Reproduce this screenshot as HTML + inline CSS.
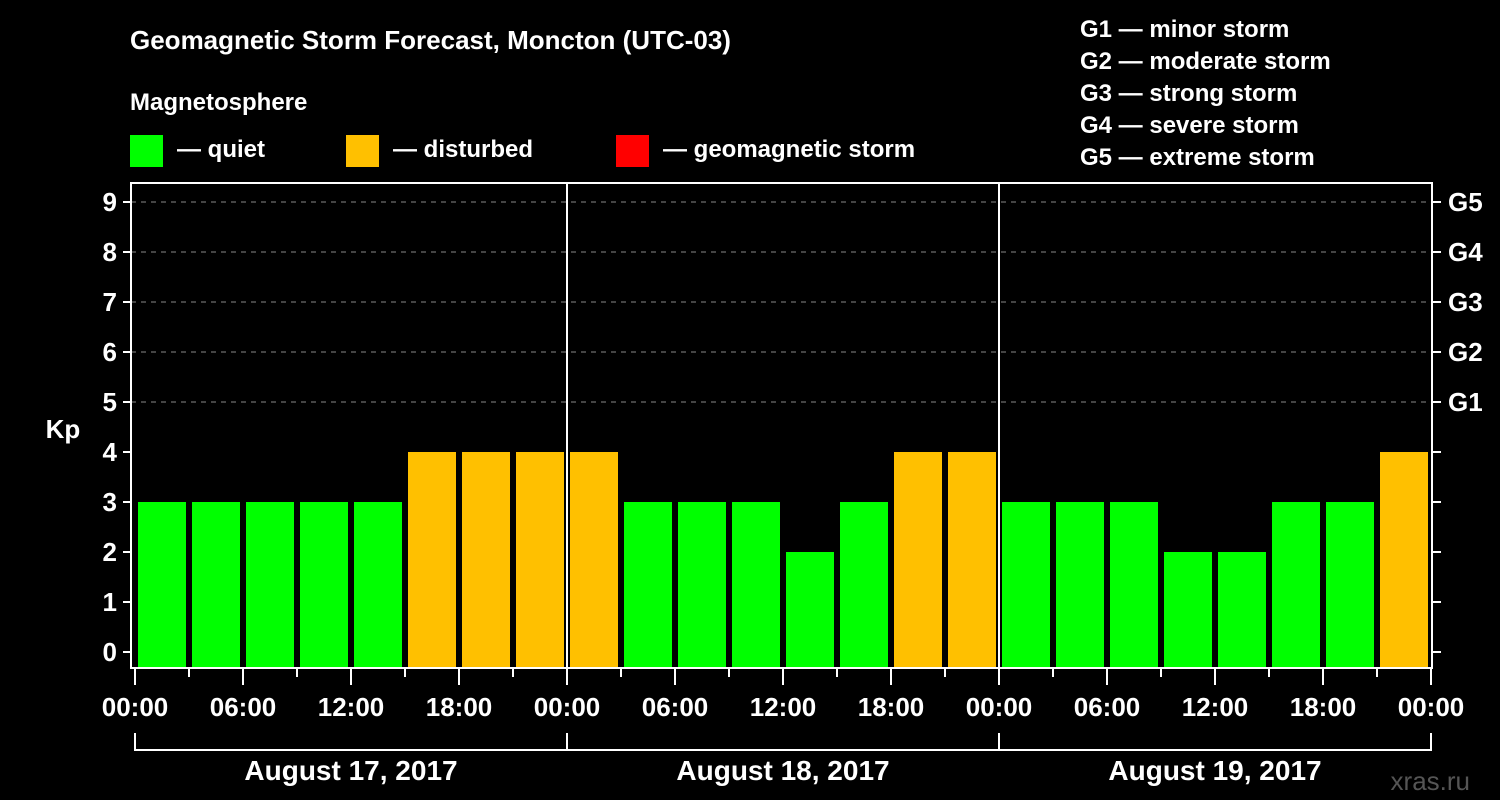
<!DOCTYPE html>
<html><head><meta charset="utf-8"><style>
html,body{margin:0;padding:0;background:#000;}
svg{display:block;font-family:"Liberation Sans",Arial,sans-serif;font-weight:bold;}
</style></head><body>
<svg id="chart" width="1500" height="800" viewBox="0 0 1500 800">
<text x="130" y="49" fill="#fff" font-size="26">Geomagnetic Storm Forecast, Moncton (UTC-03)</text>
<text x="130" y="110" fill="#fff" font-size="24">Magnetosphere</text>
<g><rect x="130" y="135" width="33" height="32" fill="#00ff00"/><text x="177" y="157" fill="#fff" font-size="24">— quiet</text></g>
<g><rect x="346" y="135" width="33" height="32" fill="#ffc000"/><text x="393" y="157" fill="#fff" font-size="24">— disturbed</text></g>
<g><rect x="616" y="135" width="33" height="32" fill="#ff0000"/><text x="663" y="157" fill="#fff" font-size="24">— geomagnetic storm</text></g>
<g fill="#fff" font-size="24">
<text x="1080" y="37">G1 — minor storm</text>
<text x="1080" y="69">G2 — moderate storm</text>
<text x="1080" y="101">G3 — strong storm</text>
<text x="1080" y="133">G4 — severe storm</text>
<text x="1080" y="165">G5 — extreme storm</text>
</g>
<text x="63" y="438" fill="#fff" font-size="26" text-anchor="middle">Kp</text>
<text x="1470" y="790" fill="#555" font-size="26" text-anchor="end" font-weight="normal">xras.ru</text>
<g id="plot"></g>
</svg>
<script>
const values = [3,3,3,3,3,4,4,4, 4,3,3,3,2,3,4,4, 3,3,3,2,2,3,3,4];
const days = ["August 17, 2017","August 18, 2017","August 19, 2017"];
const hourLabels = ["00:00","06:00","12:00","18:00"];
const gLabels = ["G1","G2","G3","G4","G5"];
const kpTicks = [0,1,2,3,4,5,6,7,8,9];

const NS="http://www.w3.org/2000/svg";
const plot=document.getElementById('plot');
const X0=135, PXH=18, Y0=652, PXK=50, BASE=668, L=131, R=1432, T=183;
const xH=h=>X0+h*PXH;
const yK=k=>Y0-k*PXK;
function mk(tag,attrs,parent){const e=document.createElementNS(NS,tag);for(const k in attrs)e.setAttribute(k,attrs[k]);(parent||plot).appendChild(e);return e;}

// gridlines
for(const k of kpTicks){ if(k>=5){
  const g=mk('line',{x1:L,x2:R,y1:yK(k),y2:yK(k),stroke:'#888','stroke-dasharray':'5,5','stroke-width':1});
  
  
}}
// bars
values.forEach((v,i)=>{
  const c=v>=5?'#ff0000':(v>=4?'#ffc000':'#00ff00');
  const b=mk('rect',{x:xH(i*3)+3,y:yK(v),width:48,height:BASE-yK(v),fill:c});
  
  
});
// day separators
for(let d=1;d<days.length;d++){
  const s=mk('line',{x1:xH(d*24),x2:xH(d*24),y1:T,y2:BASE,stroke:'#fff','stroke-width':2});
  
  
}
// frame
const f=mk('path',{d:`M${L} ${T}H${R}V${BASE}H${L}Z`,fill:'none',stroke:'#fff','stroke-width':2});


// y ticks
for(const k of kpTicks){
  mk('line',{x1:L-8,x2:L,y1:yK(k),y2:yK(k),stroke:'#fff','stroke-width':2});
  mk('line',{x1:R,x2:R+9,y1:yK(k),y2:yK(k),stroke:'#fff','stroke-width':2});
  const t=mk('text',{x:L-14,y:yK(k)+9,fill:'#fff','font-size':26,'text-anchor':'end'});
  t.textContent=k;
  
  
}
gLabels.forEach((g,i)=>{
  const t=mk('text',{x:1448,y:yK(5+i)+9,fill:'#fff','font-size':26});
  t.textContent=g;
  
  
});
// x ticks
for(let h=0;h<=72;h+=3){
  const major=h%6===0;
  mk('line',{x1:xH(h),x2:xH(h),y1:BASE,y2:BASE+(major?17:9),stroke:'#fff','stroke-width':2});
  if(h%6===0 && (h%24)%6===0 && [0,6,12,18].includes(h%24)){
    const t=mk('text',{x:xH(h),y:716,fill:'#fff','font-size':26,'text-anchor':'middle'});
    t.textContent=hourLabels[(h%24)/6];
    
    
  }
}
// day bracket
mk('path',{d:`M${xH(0)} 733V750H${xH(72)}V733`,fill:'none',stroke:'#fff','stroke-width':2});
days.forEach((d,i)=>{
  mk('line',{x1:xH(i*24),x2:xH(i*24),y1:733,y2:750,stroke:'#fff','stroke-width':2});
  const t=mk('text',{x:xH(i*24+12),y:780,fill:'#fff','font-size':28,'text-anchor':'middle'});
  t.textContent=d;
  
  
});
</script>
</body></html>
